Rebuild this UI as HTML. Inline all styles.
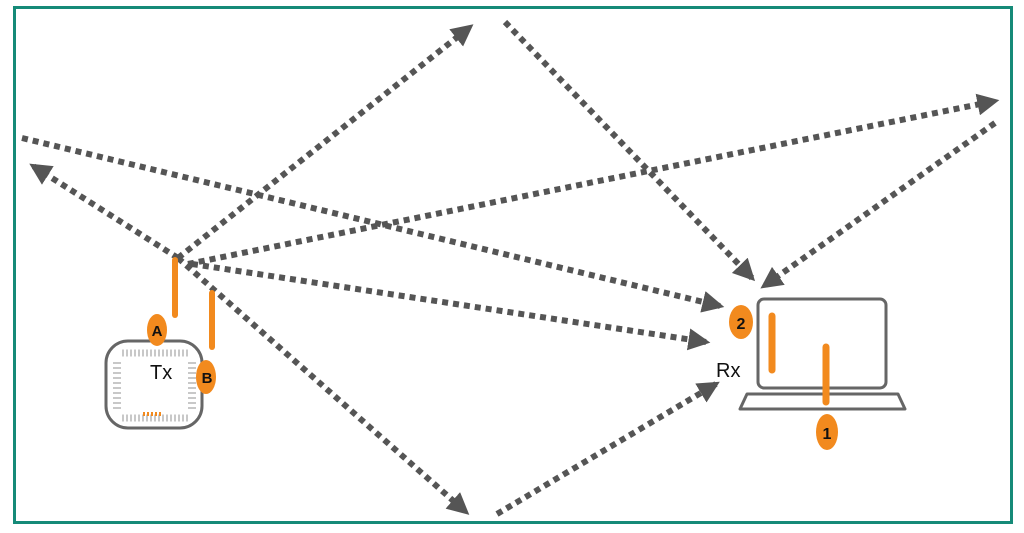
<!DOCTYPE html>
<html><head><style>body{margin:0;background:#fff}svg{display:block}</style></head>
<body>
<svg width="1024" height="533" viewBox="0 0 1024 533" xmlns="http://www.w3.org/2000/svg">
<defs>
<marker id="a" viewBox="0 0 10 10" refX="8" refY="5" markerWidth="22" markerHeight="22" markerUnits="userSpaceOnUse" orient="auto">
<path d="M0,0 L10,5 L0,10 z" fill="#555"/>
</marker>
</defs>
<rect x="14.5" y="7.5" width="997" height="515" fill="none" stroke="#158a78" stroke-width="3"/>
<g stroke="#555" stroke-width="6" stroke-dasharray="6 5" fill="none" marker-end="url(#a)">
<line x1="178" y1="258" x2="470" y2="27"/>
<line x1="505" y1="22" x2="752" y2="278"/>
<line x1="188" y1="264" x2="995" y2="101"/>
<line x1="995" y1="123" x2="764" y2="286"/>
<line x1="22" y1="138" x2="720" y2="306"/>
<line x1="192" y1="264" x2="706" y2="342"/>
<line x1="178" y1="258" x2="33" y2="166"/>
<line x1="178" y1="258" x2="466" y2="512"/>
<line x1="497" y1="514" x2="716" y2="384"/>
</g>
<!-- Tx -->
<rect x="106" y="341" width="96" height="87" rx="22" fill="#fff" stroke="#666" stroke-width="3"/>
<g stroke="#c8c8c8">
<line x1="122" y1="353" x2="188" y2="353" stroke-dasharray="2 2" stroke-width="7"/>
<line x1="122" y1="418" x2="188" y2="418" stroke-dasharray="2 2" stroke-width="7"/>
<line x1="117" y1="362" x2="117" y2="410" stroke-dasharray="2 3" stroke-width="8"/>
<line x1="192" y1="362" x2="192" y2="410" stroke-dasharray="2 3" stroke-width="8"/>
</g>
<line x1="143" y1="414" x2="162" y2="414" stroke="#f28a1e" stroke-width="4" stroke-dasharray="2 2"/>
<line x1="175" y1="260" x2="175" y2="315" stroke="#f28a1e" stroke-width="6" stroke-linecap="round"/>
<line x1="212" y1="293" x2="212" y2="347" stroke="#f28a1e" stroke-width="6" stroke-linecap="round"/>
<ellipse cx="157" cy="330" rx="10" ry="16" fill="#f28a1e"/>
<ellipse cx="206" cy="377" rx="10" ry="17" fill="#f28a1e"/>
<!-- Laptop -->
<rect x="758" y="299" width="128" height="89" rx="6" fill="#fff" stroke="#666" stroke-width="3"/>
<path d="M747,394 L898,394 L905,409 L740,409 Z" fill="none" stroke="#666" stroke-width="3" stroke-linejoin="round"/>
<line x1="772" y1="316" x2="772" y2="370" stroke="#f28a1e" stroke-width="7" stroke-linecap="round"/>
<line x1="826" y1="347" x2="826" y2="402" stroke="#f28a1e" stroke-width="7" stroke-linecap="round"/>
<ellipse cx="741" cy="322" rx="12" ry="17" fill="#f28a1e"/>
<ellipse cx="827" cy="432" rx="11" ry="18" fill="#f28a1e"/>
<g font-family="Liberation Sans, sans-serif" fill="#111">
<text x="157" y="336" font-size="15" font-weight="bold" text-anchor="middle">A</text>
<text x="207" y="383" font-size="15" font-weight="bold" text-anchor="middle">B</text>
<text x="150" y="379" font-size="20">Tx</text>
<text x="716" y="377" font-size="20">Rx</text>
<text x="741" y="329" font-size="16" font-weight="bold" text-anchor="middle">2</text>
<text x="827" y="439" font-size="16" font-weight="bold" text-anchor="middle">1</text>
</g>
</svg>
</body></html>
